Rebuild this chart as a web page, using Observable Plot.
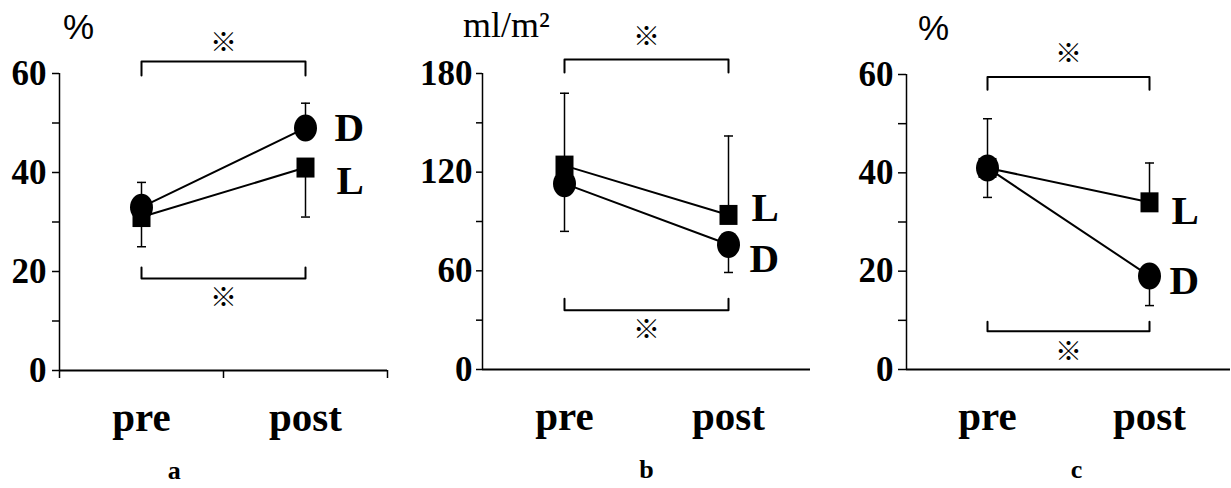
<!DOCTYPE html>
<html>
<head>
<meta charset="utf-8">
<script src="https://cdn.jsdelivr.net/npm/d3@7"></script>
<script src="https://cdn.jsdelivr.net/npm/@observablehq/plot@0.6"></script>
<style>
  html, body { margin: 0; padding: 0; background: #fff; }
  #wrap { display: flex; width: 1231px; height: 488px; }
  #wrap svg { display: block; flex: none; }
</style>
</head>
<body>
<div id="wrap"></div>
<script>
// ---- data ----
const phases = ["pre", "post"];

// panel a (%)
const aD = [33, 49];   const aDsd = [5, 5];    // D: error bar upward
const aL = [31, 41];   const aLsd = [6, 10];   // L: error bar downward
const aTicks = [0, 10, 20, 30, 40, 50, 60];
const aTickLabels = [0, 20, 40, 60];

// panel b (ml/m²)
const bD = [113, 76];  const bDsd = [29, 17];  // D: error bar downward
const bL = [124, 94];  const bLsd = [44, 48];  // L: error bar upward
const bTicks = [0, 30, 60, 90, 120, 150, 180];
const bTickLabels = [0, 60, 120, 180];

// panel c (%)
const cD = [41, 19];   const cDsd = [6, 6];    // D: error bar downward
const cL = [41, 34];   const cLsd = [10, 8];   // L: error bar upward
const cTicks = [0, 10, 20, 30, 40, 50, 60];
const cTickLabels = [0, 20, 40, 60];

// significance brackets [end value, bar value]
const aBracketTop = [59.6, 62.4], aBracketBottom = [20.8, 18.6];
const bBracketTop = [180.6, 188.5], bBracketBottom = [43, 36];
const cBracketTop = [56.9, 59.5], cBracketBottom = [9.7, 7.8];

const serif = "'Liberation Serif', 'Times New Roman', serif";

// custom symbols
const ellipseSym = (rx, ry) => ({
  draw(ctx) {
    const k = 0.5522847498;
    ctx.moveTo(rx, 0);
    ctx.bezierCurveTo(rx, ry * k, rx * k, ry, 0, ry);
    ctx.bezierCurveTo(-rx * k, ry, -rx, ry * k, -rx, 0);
    ctx.bezierCurveTo(-rx, -ry * k, -rx * k, -ry, 0, -ry);
    ctx.bezierCurveTo(rx * k, -ry, rx, -ry * k, rx, 0);
    ctx.closePath();
  }
});
const rectSym = (w, h) => ({
  draw(ctx) { ctx.rect(-w / 2, -h / 2, w, h); }
});
const capSym = (hw) => ({
  draw(ctx) { ctx.moveTo(-hw, 0); ctx.lineTo(hw, 0); }
});

function panel(cfg) {
  const rec = (vals, sds, dir, g) => vals.map((v, i) => ({
    phase: phases[i], x: i + 0.5, y: v, end: v + dir * sds[i], g
  }));
  const D = rec(cfg.D, cfg.Dsd, cfg.Ddir, "D");
  const L = rec(cfg.L, cfg.Lsd, cfg.Ldir, "L");
  const bracket = (b) => [
    {x: 0.5, y: b[0]}, {x: 0.5, y: b[1]}, {x: 1.5, y: b[1]}, {x: 1.5, y: b[0]}
  ];
  const marks = [
    Plot.ruleY([0], {x1: 0, x2: 2, strokeWidth: 2}),
    Plot.ruleX([0], {y1: 0, y2: cfg.max, strokeWidth: 1.5}),
    Plot.axisY({
      ticks: cfg.ticks, tickSize: cfg.tickSize, tickPadding: cfg.tickPadding,
      tickFormat: d => cfg.tickLabels.includes(d) ? String(d) : "",
      fontSize: 35, fontWeight: "bold", fontFamily: serif, strokeWidth: 1.5, label: null
    }),
    // brackets
    Plot.line(bracket(cfg.bracketTop), {x: "x", y: "y", strokeWidth: 2}),
    Plot.line(bracket(cfg.bracketBottom), {x: "x", y: "y", strokeWidth: 2}),
    Plot.text(["※"], {x: 1, y: cfg.starTop, fontSize: 27, fontFamily: "'Noto Sans CJK JP', sans-serif"}),
    Plot.text(["※"], {x: 1, y: cfg.starBottom, fontSize: 27, fontFamily: "'Noto Sans CJK JP', sans-serif"}),
    // error bars
    Plot.ruleX([...D, ...L], {x: "x", y1: "y", y2: "end", strokeWidth: 1.5}),
    Plot.dot([...D, ...L], {x: "x", y: "end", symbol: capSym(4.5), stroke: "black", strokeWidth: 1.5, fill: "none", r: 5}),
    // lines
    Plot.line([...L, ...D], {x: "x", y: "y", z: "g", strokeWidth: 2}),
    Plot.dot(L, {x: "x", y: "y", symbol: rectSym(18, 20), fill: "black", r: 10}),
    Plot.dot(D, {x: "x", y: "y", symbol: ellipseSym(11.5, 13.5), fill: "black", r: 12}),
    // series labels
    Plot.text(["D"], {x: 1.5, y: cfg.labelD, dx: cfg.labelDx, textAnchor: "start", fontSize: 41, fontWeight: "bold", fontFamily: serif}),
    Plot.text(["L"], {x: 1.5, y: cfg.labelL, dx: cfg.labelDx + 2, textAnchor: "start", fontSize: 41, fontWeight: "bold", fontFamily: serif}),
    // category labels
    Plot.text(phases, {x: (d, i) => i + 0.5, y: 0, dy: 47, fontSize: 41, fontWeight: "bold", fontFamily: serif}),
    // panel letter
    Plot.text([cfg.letter], {x: cfg.letterX, y: 0, dy: 100, fontSize: 26, fontWeight: "bold", fontFamily: serif}),
    // unit label
    Plot.text([cfg.unit], {frameAnchor: "top-left", textAnchor: "middle", lineAnchor: "middle",
      dx: cfg.unitDx, dy: cfg.unitDy, fontSize: cfg.unitSize, fontFamily: cfg.unitFont})
  ];
  if (cfg.xTicks) {
    marks.push(Plot.axisX({ticks: [0, 1, 2], tickSize: 8, tickFormat: () => "", strokeWidth: 1.5, label: null}));
  }
  return Plot.plot({
    width: cfg.width, height: 488,
    marginLeft: cfg.ml, marginRight: cfg.mr, marginTop: cfg.mt, marginBottom: 488 - cfg.axisY0,
    x: {domain: [0, 2], axis: cfg.xTicks ? undefined : null},
    y: {domain: [0, cfg.max], axis: null},
    style: {background: "white", color: "black", overflow: "visible"},
    marks
  });
}

const wrap = document.getElementById("wrap");
wrap.append(panel({
  width: 410, ml: 59, mr: 23, mt: 73, axisY0: 370, max: 60,
  D: aD, Dsd: aDsd, Ddir: 1, L: aL, Lsd: aLsd, Ldir: -1,
  ticks: aTicks, tickLabels: aTickLabels, tickSize: 7, tickPadding: 6,
  bracketTop: aBracketTop, bracketBottom: aBracketBottom,
  starTop: 66, starBottom: 14.5,
  labelD: 49, labelL: 38.4, labelDx: 29,
  letter: "a", letterX: 0.7, xTicks: true,
  unit: "%", unitDx: 19, unitDy: -46, unitSize: 35, unitFont: "'Liberation Sans', Arial, sans-serif"
}));
wrap.append(panel({
  width: 410, ml: 72, mr: 10, mt: 73, axisY0: 369, max: 180,
  D: bD, Dsd: bDsd, Ddir: -1, L: bL, Lsd: bLsd, Ldir: 1,
  ticks: bTicks, tickLabels: bTickLabels, tickSize: 6, tickPadding: 4,
  bracketTop: bBracketTop, bracketBottom: bBracketBottom,
  starTop: 202, starBottom: 23.7,
  labelD: 67.5, labelL: 98, labelDx: 21,
  letter: "b", letterX: 1.0, xTicks: false,
  unit: "ml/m²", unitDx: 24, unitDy: -48, unitSize: 36, unitFont: serif
}));
wrap.append(panel({
  width: 411, ml: 86, mr: 1, mt: 74, axisY0: 369, max: 60,
  D: cD, Dsd: cDsd, Ddir: -1, L: cL, Lsd: cLsd, Ldir: 1,
  ticks: cTicks, tickLabels: cTickLabels, tickSize: 8, tickPadding: 5,
  bracketTop: cBracketTop, bracketBottom: cBracketBottom,
  starTop: 64, starBottom: 3.5,
  labelD: 18.1, labelL: 32.3, labelDx: 20,
  letter: "c", letterX: 1.05, xTicks: false,
  unit: "%", unitDx: 27, unitDy: -46, unitSize: 35, unitFont: "'Liberation Sans', Arial, sans-serif"
}));
</script>
</body>
</html>
